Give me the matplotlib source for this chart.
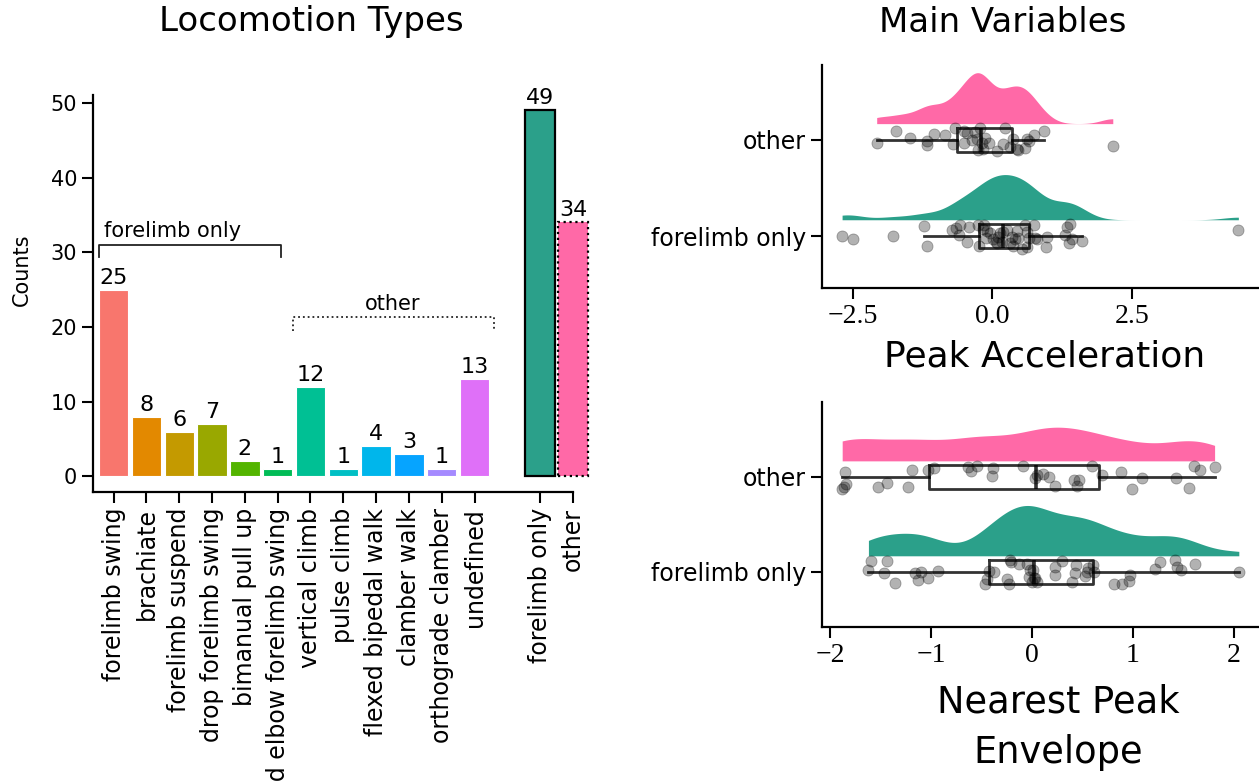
import numpy as np
import matplotlib
matplotlib.use("Agg")
import matplotlib.pyplot as plt
from matplotlib import mlab
import seaborn as sns

plt.rcParams['font.family'] = ['DejaVu Sans']

# ---- data ----
loco_types = ["forelimb swing", "brachiate", "forelimb suspend", "drop forelimb swing",
              "bimanual pull up", "flexed elbow forelimb swing", "vertical climb", "pulse climb",
              "flexed bipedal walk", "clamber walk", "orthograde clamber", "undefined"]
loco_counts = [25, 8, 6, 7, 2, 1, 12, 1, 4, 3, 1, 13]
group_names = ["forelimb only", "other"]
group_counts = [49, 34]

peak_acc_other = [-2.07, -1.72, -1.47, -1.17, -1.16, -1.05, -0.84, -0.70, -0.66, -0.51,
                  -0.51, -0.45, -0.36, -0.30, -0.27, -0.25, -0.22, -0.18, -0.16, -0.13,
                  -0.05, 0.08, 0.20, 0.23, 0.32, 0.37, 0.45, 0.47, 0.59, 0.62,
                  0.65, 0.74, 0.92, 2.16]
peak_acc_fore = [-2.69, -2.50, -1.77, -1.23, -1.17, -0.72, -0.65, -0.60, -0.57, -0.45,
                 -0.41, -0.25, -0.23, -0.16, -0.14, -0.11, -0.10, -0.04, 0.02, 0.07,
                 0.08, 0.11, 0.14, 0.17, 0.19, 0.26, 0.32, 0.35, 0.38, 0.41,
                 0.44, 0.47, 0.53, 0.59, 0.62, 0.63, 0.65, 0.74, 0.77, 0.80,
                 0.97, 0.99, 1.31, 1.34, 1.37, 1.40, 1.43, 1.61, 4.41]
env_other = [-1.88, -1.86, -1.85, -1.84, -1.53, -1.44, -1.23, -1.19, -1.03, -0.97,
             -0.63, -0.60, -0.54, -0.40, -0.39, -0.09, 0.03, 0.05, 0.11, 0.17,
             0.23, 0.42, 0.45, 0.47, 0.60, 0.69, 0.88, 0.99, 1.09, 1.43,
             1.56, 1.61, 1.67, 1.81]
env_fore = [-1.62, -1.59, -1.47, -1.44, -1.36, -1.16, -1.13, -1.10, -1.03, -0.93,
            -0.46, -0.45, -0.43, -0.38, -0.25, -0.23, -0.22, -0.21, -0.13, -0.05,
            -0.03, -0.02, 0.00, 0.01, 0.02, 0.03, 0.05, 0.23, 0.23, 0.30,
            0.40, 0.43, 0.44, 0.53, 0.55, 0.56, 0.61, 0.62, 0.81, 0.89,
            0.96, 0.97, 1.22, 1.27, 1.42, 1.44, 1.48, 1.62, 2.05]

bar_colors = ['#F8766D', '#E38900', '#C49A00', '#99A800', '#53B400', '#00BC56',
              '#00C094', '#00BFC4', '#00B6EB', '#06A4FF', '#A58AFF', '#DF70F8']
teal = '#2BA08A'
pink = '#FF69A7'

W, H = 1259, 782
fig = plt.figure(figsize=(W / 100, H / 100), dpi=100)

# ---- left: bar chart ----
ax = fig.add_axes([93 / W, 1 - 492 / H, (590 - 93) / W, (492 - 95) / H])
xs = np.arange(len(loco_types))
ax.bar(xs, loco_counts, width=0.9, color=bar_colors, edgecolor='white', linewidth=0.8)
gx = np.array([13, 14])
ax.bar(gx[0], group_counts[0], width=0.9, color=teal, edgecolor='black', linewidth=1.6)
ax.bar(gx[1], group_counts[1], width=0.9, color=pink, edgecolor='black', linewidth=1.6,
       linestyle=':')
for x, v in zip(list(xs) + list(gx), loco_counts + group_counts):
    ax.text(x, v + 0.8, str(v), ha='center', va='baseline', fontsize=16)

ax.plot([-0.45, -0.45, 5.1, 5.1], [29.4, 31, 31, 29.4], color='#222222', lw=1.3)
ax.text(-0.3, 32.0, "forelimb only", ha='left', va='baseline', fontsize=15)
ax.plot([5.47, 5.47, 11.6, 11.6], [19.5, 21.3, 21.3, 19.5], color='#222222', lw=1.3, ls=':')
ax.text(8.5, 22.3, "other", ha='center', va='baseline', fontsize=15)

ax.set_xlim(-0.63, 14.52)
ax.set_ylim(-2.1, 51.07)
ax.set_xticks(list(xs) + list(gx))
ax.set_xticklabels(loco_types + group_names, rotation=90, fontsize=17)
ax.set_yticks([0, 10, 20, 30, 40, 50])
ax.tick_params(axis='y', labelsize=15, length=8, width=1.5)
ax.tick_params(axis='x', length=8, width=1.5)
for s in ['top', 'right']:
    ax.spines[s].set_visible(False)
for s in ['left', 'bottom']:
    ax.spines[s].set_linewidth(1.6)
ax.spines['bottom'].set_bounds(-0.63, 14)
fig.text(22 / W, 1 - 270 / H, "Counts", rotation=90, ha='center', va='center', fontsize=15)
fig.text(311 / W, 1 - 22 / H, "Locomotion Types", ha='center', va='center', fontsize=24.5)


# ---- right: raincloud plots ----
def raincloud(ax, other, fore, xlim, ylim, xticks):
    groups = [other, fore]
    colors = [pink, teal]
    dens = []
    for vals in groups:
        kde = mlab.GaussianKDE(np.array(vals), bw_method=0.25)
        grid = np.linspace(min(vals), max(vals), 400)
        dens.append((grid, kde.evaluate(grid)))
    dmax = max(d.max() for _, d in dens)
    for i, ((grid, d), c) in enumerate(zip(dens, colors)):
        base = i - 0.17
        ax.fill_between(grid, base, base - d / dmax * 0.53, color=c, lw=0, zorder=1)
    bx = ax.boxplot(groups, positions=[0, 1], orientation='horizontal', widths=0.25,
                    showfliers=False, showcaps=False, manage_ticks=False, patch_artist=False)
    for key in ['boxes', 'whiskers', 'medians']:
        for ln in bx[key]:
            ln.set_color('black')
            ln.set_alpha(0.8)
            ln.set_linewidth(2.6 if key == 'medians' else 2.0)
            ln.set_zorder(2)
    for i, vals in enumerate(groups):
        sns.stripplot(x=vals, y=[i] * len(vals), orient='h', native_scale=True, jitter=0.13,
                      size=8, color='black', alpha=0.3, linewidth=0.6, edgecolor='black',
                      ax=ax, zorder=3)
    ax.set_xlim(*xlim)
    ax.set_ylim(*ylim)
    ax.set_yticks([0, 1])
    ax.set_yticklabels(["other", "forelimb only"], fontsize=17)
    ax.set_xticks(xticks)
    ax.set_xlabel("")
    ax.set_ylabel("")
    ax.tick_params(length=8, width=1.5)
    for lbl in ax.get_xticklabels():
        lbl.set_fontfamily('Liberation Serif')
        lbl.set_fontsize(20)
    for s in ['top', 'right']:
        ax.spines[s].set_visible(False)
    for s in ['left', 'bottom']:
        ax.spines[s].set_linewidth(1.6)


ax_top = fig.add_axes([822 / W, 1 - 288 / H, 437 / W, (288 - 65) / H])
raincloud(ax_top, peak_acc_other, peak_acc_fore, (-3.05, 4.78), (1.54, -0.78), [-2.5, 0.0, 2.5])
ax_bot = fig.add_axes([822 / W, 1 - 627 / H, 437 / W, (627 - 402) / H])
raincloud(ax_bot, env_other, env_fore, (-2.08, 2.25), (1.58, -0.79), [-2, -1, 0, 1, 2])

fig.text(1003 / W, 1 - 22 / H, "Main Variables", ha='center', va='center', fontsize=24.5)
fig.text(1045 / W, 1 - 356 / H, "Peak Acceleration", ha='center', va='center', fontsize=26)
fig.text(1058 / W, 1 - 727 / H, "Nearest Peak\nEnvelope", ha='center', va='center',
         fontsize=26.5, linespacing=1.45)

fig.savefig("out.png", dpi=100)
